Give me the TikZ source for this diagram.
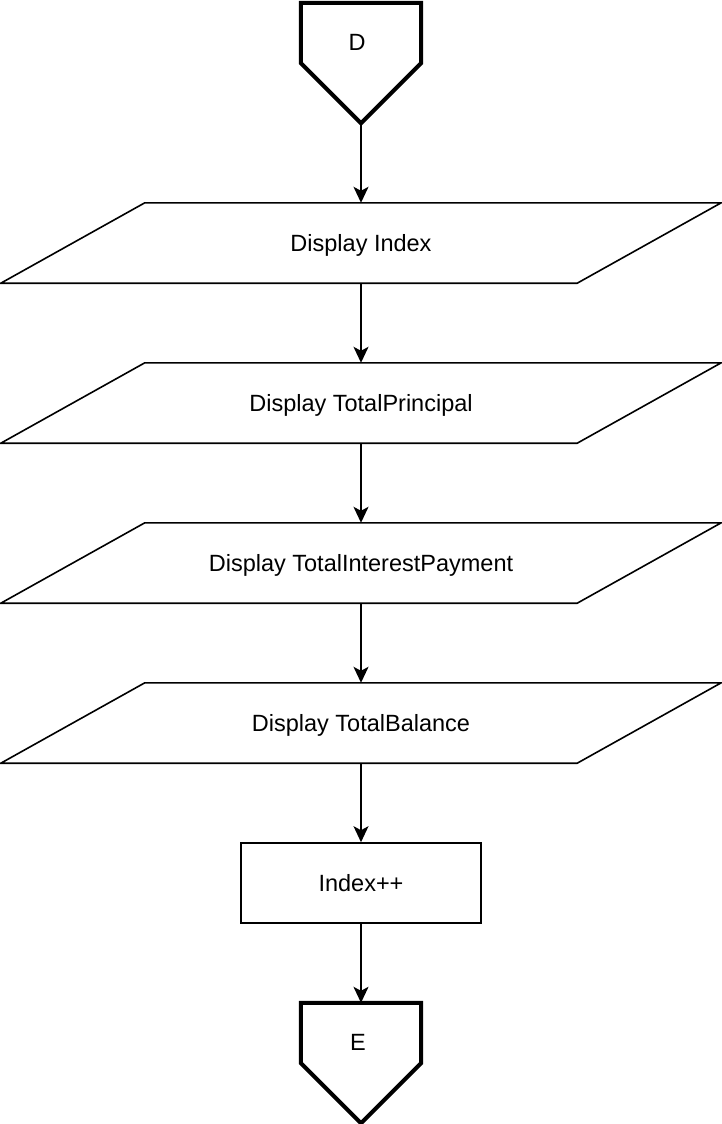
\documentclass[tikz,border=0pt]{standalone}
\usepackage{fontspec}
\setmainfont{Liberation Sans}
\usetikzlibrary{arrows.meta}

\tikzset{
  offpage/.style={rectangle, minimum width=120pt, minimum height=120pt, inner sep=0pt},
  inout/.style={rectangle, minimum width=720pt, minimum height=80pt, text depth=0pt},
  process/.style={rectangle, draw=black, line width=1.6pt, minimum width=240pt, minimum height=80pt},
  arrow/.style={-{Stealth[length=16pt,width=15pt,inset=4pt]}, line width=1.6pt}
}

\begin{document}
\begin{tikzpicture}[x=1pt, y=-1pt, font=\fontsize{23.5}{28}\selectfont]
        \useasboundingbox (0,0) rectangle (722,1124);

        \node[offpage] (d) at (361,63) {};
        \draw[line width=4pt] (d.north west) -- (d.north east) -- (d.east) -- (d.south) -- (d.west) -- cycle;
        \node (dtext) at (357,42) {D};

        \node[inout] (index) at (361,243) {Display Index};
        \node[inout] (principal) at (361,403) {Display TotalPrincipal};
        \node[inout] (interest) at (361,563) {Display TotalInterestPayment};
        \node[inout] (balance) at (361,723) {Display TotalBalance};
        \foreach \n in {index,principal,interest,balance}
            \draw[line width=1.6pt] (\n.south west) -- ([xshift=-144pt]\n.south east) -- (\n.north east) -- ([xshift=144pt]\n.north west) -- cycle;

        \node[process] (incr) at (361,883) {Index++};

        \node[offpage] (e) at (361,1063) {};
        \draw[line width=4pt] (e.north west) -- (e.north east) -- (e.east) -- (e.south) -- (e.west) -- cycle;
        \node (etext) at (358,1042) {E};

        \draw[arrow] (d) -- (index);
        \draw[arrow] (index) -- (principal);
        \draw[arrow] (principal) -- (interest);
        \draw[arrow] (interest) -- (balance);
        \draw[arrow] (balance) -- (incr);
        \draw[arrow] (incr) -- (e);
    \end{tikzpicture}
\end{document}
